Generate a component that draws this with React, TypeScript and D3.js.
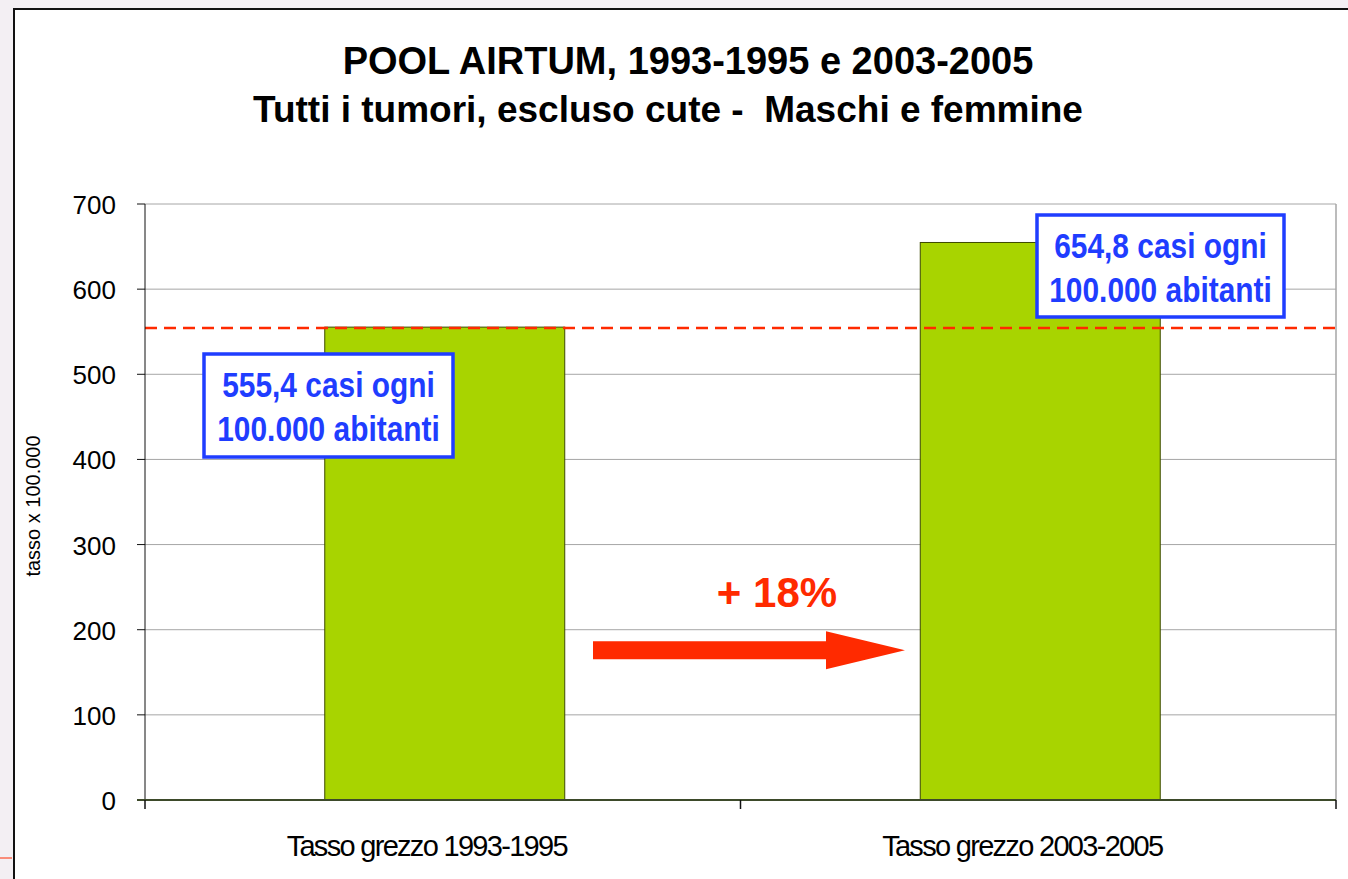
import * as d3 from "d3";
import React from "react";

const categories = ["Tasso grezzo 1993-1995", "Tasso grezzo 2003-2005"];
const rates = [555.4, 654.8];
const yTicks = [0, 100, 200, 300, 400, 500, 600, 700];
const boxLines = [
  ["555,4 casi ogni", "100.000 abitanti"],
  ["654,8 casi ogni", "100.000 abitanti"],
];
const titleLines = [
  "POOL AIRTUM, 1993-1995 e 2003-2005",
  "Tutti i tumori, escluso cute -  Maschi e femmine",
];
const changeLabel = "+ 18%";
const yTitle = "tasso x 100.000";

const W = 1348;
const H = 879;
const plot = { left: 145, right: 1336, top: 204, bottom: 800 };

const x = d3.scaleBand<string>()
  .domain(categories)
  .range([plot.left, plot.right])
  .padding(0);

const y = d3.scaleLinear()
  .domain([0, 700])
  .range([plot.bottom, plot.top]);

const barW = x.bandwidth() * 0.403;
const sans = "'Liberation Sans', Arial, sans-serif";
const blue = "#1f3dff";
const red = "#ff2a00";

export default function App() {
  const cx = (c: string) => (x(c) ?? 0) + x.bandwidth() / 2;

  // annotation boxes: first sits left of bar 1, second over the top right of bar 2
  const boxes = [
    { x0: 204, y0: 354, w: 249, h: 103 },
    { x0: 1037, y0: 215, w: 247, h: 102 },
  ];

  // arrow between the bars, around value 176
  const ay = y(176);
  const ax0 = 593, ax1 = 826, tip = 905;

  return (
    <div style={{ position: "absolute", left: 0, top: 0 }}>
      <svg width={W} height={H} style={{ display: "block" }}>
        <rect x={0} y={0} width={W} height={H} fill="#f3eff3" />
        <rect x={14} y={9} width={W} height={H} fill="#fff" stroke="#111" strokeWidth={2} />
        <line x1={0} x2={12} y1={858} y2={858} stroke={red} strokeWidth={1} />

        {titleLines.map((t, i) => (
          <text key={i} x={i === 0 ? 688 : 668} y={74 + i * 48} textAnchor="middle"
            fontFamily={sans} fontWeight="bold" fontSize={i === 0 ? 38 : 37} fill="#000"
            style={{ whiteSpace: "pre" }}>{t}</text>
        ))}

        {/* grid */}
        {yTicks.filter((t) => t > 0).map((t) => (
          <line key={t} x1={plot.left} x2={plot.right} y1={y(t)} y2={y(t)} stroke="#a6a6a6" strokeWidth={1} />
        ))}
        <line x1={plot.right} x2={plot.right} y1={plot.top} y2={plot.bottom} stroke="#a6a6a6" strokeWidth={1.5} />

        {/* bars */}
        {categories.map((c, i) => (
          <rect key={c} x={cx(c) - barW / 2 + 2} y={y(rates[i])} width={barW} height={plot.bottom - y(rates[i])}
            fill="#a8d400" stroke="#3d4a00" strokeWidth={1} />
        ))}

        {/* reference dashed line at the first rate */}
        <line x1={plot.left} x2={plot.right + 5} y1={y(rates[0]) + 1} y2={y(rates[0]) + 1}
          stroke={red} strokeWidth={2.5} strokeDasharray="12,7" />

        {/* axes */}
        <line x1={plot.left} x2={plot.left} y1={plot.top} y2={plot.bottom} stroke="#111" strokeWidth={1} />
        {yTicks.map((t) => (
          <g key={t}>
            <line x1={plot.left - 8} x2={plot.left} y1={y(t)} y2={y(t)} stroke="#111" strokeWidth={1} />
            <text x={116} y={y(t) + 10} textAnchor="end" fontFamily={sans} fontSize={26} fill="#000">{t}</text>
          </g>
        ))}
        <line x1={plot.left - 8} x2={plot.right} y1={plot.bottom} y2={plot.bottom} stroke="#3d4a2a" strokeWidth={2} />
        {[plot.left, ...categories.map((c) => (x(c) ?? 0) + x.bandwidth())].map((px, i) => (
          <line key={i} x1={px} x2={px} y1={plot.bottom} y2={plot.bottom + 9} stroke="#111" strokeWidth={1.5} />
        ))}
        {categories.map((c) => (
          <text key={c} x={cx(c) - 16} y={856} textAnchor="middle" fontFamily={sans} fontSize={29}
            letterSpacing={-1.7} fill="#000">{c}</text>
        ))}
        <text transform={`translate(40,506) rotate(-90)`} textAnchor="middle"
          fontFamily={sans} fontSize={20} fill="#000">{yTitle}</text>

        {/* annotation boxes, condensed bold text */}
        {boxes.map((b, i) => (
          <g key={i}>
            <rect x={b.x0} y={b.y0} width={b.w} height={b.h} fill="#fff" stroke={blue} strokeWidth={3.5} />
            {boxLines[i].map((l, j) => (
              <text key={j} transform={`translate(${b.x0 + b.w / 2},${b.y0 + 43 + j * 44}) scale(0.83,1)`}
                textAnchor="middle" fontFamily={sans} fontWeight="bold" fontSize={36} fill={blue}>{l}</text>
            ))}
          </g>
        ))}

        {/* change arrow */}
        <path d={`M${ax0},${ay - 9}H${ax1}V${ay - 19}L${tip},${ay}L${ax1},${ay + 19}V${ay + 9}H${ax0}Z`} fill={red} />
        <text x={777} y={607} textAnchor="middle" fontFamily={sans} fontWeight="bold" fontSize={42} fill={red}>{changeLabel}</text>
      </svg>
    </div>
  );
}
